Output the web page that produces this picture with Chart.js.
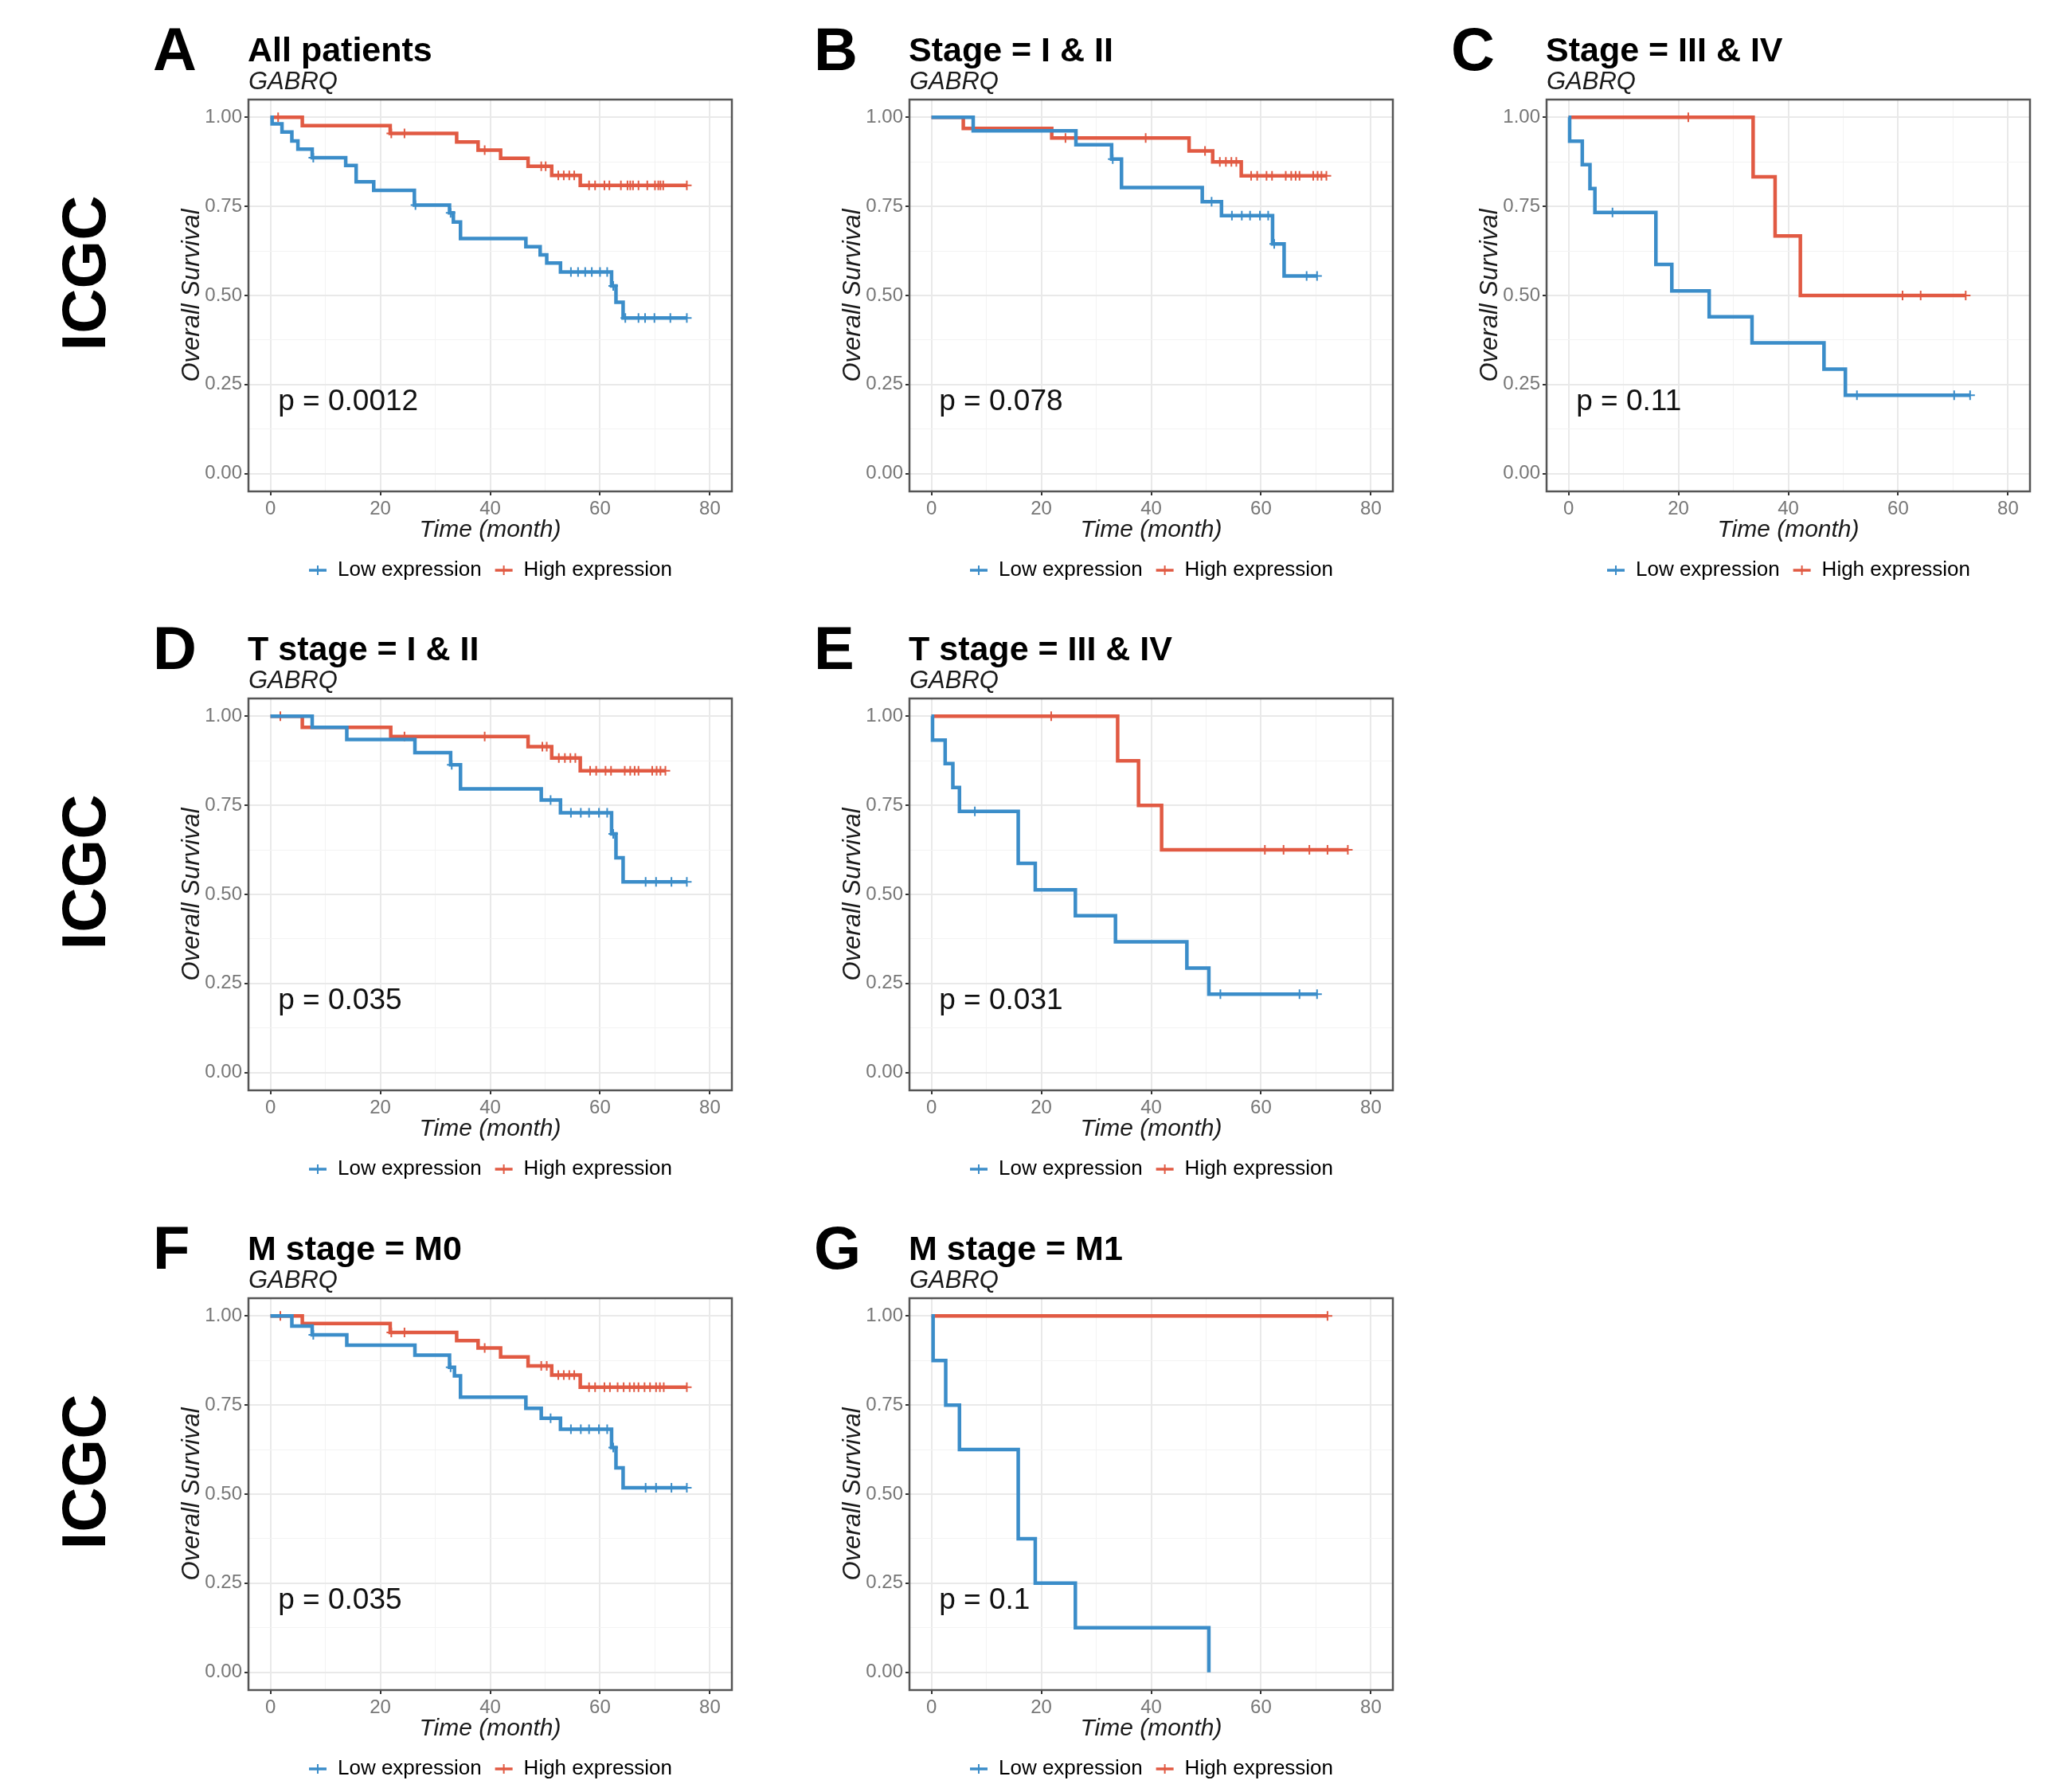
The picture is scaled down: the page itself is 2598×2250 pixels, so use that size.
<!DOCTYPE html>
<html>
<head>
<meta charset="utf-8">
<script src="https://cdn.jsdelivr.net/npm/chart.js@4.4.1/dist/chart.umd.min.js"></script>
<style>
  body { margin: 0; background: #fff; }
  #page { position: relative; width: 2598px; height: 2250px; overflow: hidden; font-family: "Liberation Sans", Arial, sans-serif; }
  #page canvas { position: absolute; }
  .letter { position: absolute; font-weight: bold; font-size: 76px; line-height: 76px; color: #000; }
  .cohort { position: absolute; font-weight: bold; font-size: 78px; line-height: 78px; color: #000;
            transform: translate(-50%, -50%) rotate(-90deg); white-space: nowrap; }
</style>
</head>
<body>
<div id="page"></div>
<script>
// labels
const panelLetters = ["A", "B", "C", "D", "E", "F", "G"];
const panelTitles = ["All patients", "Stage = I & II", "Stage = III & IV", "T stage = I & II",
                     "T stage = III & IV", "M stage = M0", "M stage = M1"];
const pValues = ["p = 0.0012", "p = 0.078", "p = 0.11", "p = 0.035", "p = 0.031", "p = 0.035", "p = 0.1"];
const geneName = "GABRQ";
const cohortName = "ICGC";
const seriesNames = ["Low expression", "High expression"];
const xTicks = [0, 20, 40, 60, 80];
const yTicks = [0, 0.25, 0.5, 0.75, 1];

// A - all patients
const aLowTime  = [0, 0.3, 2.1, 3.9, 5.0, 7.6, 13.7, 15.6, 18.8, 26.2, 32.6, 33.3, 34.6, 46.5, 49.1, 50.3, 52.8, 62.1, 62.9, 64.2, 75.8];
const aLowSurv  = [1, 0.982, 0.959, 0.934, 0.911, 0.887, 0.865, 0.819, 0.795, 0.754, 0.732, 0.706, 0.66, 0.637, 0.614, 0.591, 0.566, 0.527, 0.481, 0.437, 0.437];
const aLowCens  = [7.8, 26.4, 32.8, 54.7, 56.0, 57.3, 58.5, 60.0, 61.3, 62.4, 64.6, 67.0, 68.2, 69.9, 72.8, 75.8];
const aHighTime = [0, 5.8, 21.8, 33.9, 37.8, 41.9, 46.9, 51.2, 56.4, 75.8];
const aHighSurv = [1, 0.977, 0.955, 0.931, 0.908, 0.885, 0.863, 0.837, 0.809, 0.809];
const aHighCens = [1.4, 22.0, 24.4, 39.0, 49.3, 50.1, 52.4, 53.4, 54.4, 55.3, 58.0, 59.1, 60.8, 61.7, 63.8, 65.0, 65.5, 66.0, 67.0, 68.6, 70.0, 70.6, 71.0, 71.5, 75.8];

// B - stage I & II
const bLowTime  = [0, 7.6, 26.3, 32.8, 34.6, 49.3, 52.8, 62.1, 64.2, 70.2];
const bLowSurv  = [1, 0.962, 0.923, 0.883, 0.803, 0.763, 0.724, 0.645, 0.555, 0.555];
const bLowCens  = [33.0, 51.0, 54.7, 56.5, 58.0, 59.8, 61.3, 62.4, 68.3, 70.2];
const bHighTime = [0, 5.8, 21.9, 46.9, 51.2, 56.4, 71.9];
const bHighSurv = [1, 0.969, 0.942, 0.906, 0.875, 0.836, 0.836];
const bHighCens = [24.4, 39.0, 49.8, 52.5, 53.6, 54.6, 55.5, 58.2, 59.3, 61.0, 62.0, 64.5, 65.5, 66.3, 67.0, 69.5, 70.3, 71.0, 71.9];

// C - stage III & IV
const cLowTime  = [0, 0.2, 2.5, 3.9, 4.8, 15.9, 18.8, 25.6, 33.4, 46.5, 50.4, 73.1];
const cLowSurv  = [1, 0.933, 0.867, 0.8, 0.733, 0.587, 0.513, 0.44, 0.367, 0.293, 0.22, 0.22];
const cLowCens  = [8.0, 52.5, 70.2, 73.1];
const cHighTime = [0, 33.6, 37.6, 42.2, 72.3];
const cHighSurv = [1, 0.833, 0.667, 0.5, 0.5];
const cHighCens = [21.8, 60.8, 64.1, 72.3];

// D - T stage I & II
const dLowTime  = [0, 7.6, 13.9, 26.3, 32.8, 34.6, 49.3, 52.8, 62.1, 62.9, 64.2, 75.8];
const dLowSurv  = [1, 0.969, 0.935, 0.898, 0.864, 0.796, 0.765, 0.729, 0.67, 0.603, 0.535, 0.535];
const dLowCens  = [33.0, 51.0, 54.7, 56.5, 58.0, 59.8, 61.3, 62.4, 68.3, 70.2, 73.0, 75.8];
const dHighTime = [0, 5.8, 21.9, 46.9, 51.2, 56.4, 71.9];
const dHighSurv = [1, 0.969, 0.943, 0.915, 0.883, 0.847, 0.847];
const dHighCens = [1.8, 24.4, 39.0, 49.5, 50.3, 52.5, 53.6, 54.6, 55.5, 58.2, 59.3, 61.0, 62.0, 64.5, 65.5, 66.3, 67.0, 69.5, 70.3, 71.0, 71.9];

// E - T stage III & IV
const eLowTime  = [0, 0.2, 2.5, 3.9, 5.1, 15.8, 18.9, 26.2, 33.5, 46.5, 50.5, 70.2];
const eLowSurv  = [1, 0.933, 0.867, 0.8, 0.733, 0.587, 0.513, 0.44, 0.367, 0.293, 0.22, 0.22];
const eLowCens  = [7.9, 52.6, 67.0, 70.2];
const eHighTime = [0, 33.9, 37.7, 41.9, 75.8];
const eHighSurv = [1, 0.875, 0.75, 0.625, 0.625];
const eHighCens = [21.8, 60.7, 64.1, 68.8, 72.1, 75.8];

// F - M stage M0
const fLowTime  = [0, 3.9, 7.6, 13.9, 26.3, 32.6, 33.5, 34.6, 46.5, 49.3, 52.8, 62.1, 62.9, 64.2, 75.8];
const fLowSurv  = [1, 0.972, 0.947, 0.918, 0.89, 0.856, 0.832, 0.772, 0.741, 0.713, 0.682, 0.631, 0.574, 0.518, 0.518];
const fLowCens  = [7.8, 32.8, 51.0, 54.7, 56.5, 58.0, 59.8, 61.3, 62.4, 68.3, 70.2, 73.0, 75.8];
const fHighTime = [0, 5.8, 21.8, 33.9, 37.8, 41.9, 46.9, 51.2, 56.4, 75.8];
const fHighSurv = [1, 0.979, 0.954, 0.931, 0.91, 0.885, 0.86, 0.834, 0.8, 0.8];
const fHighCens = [1.8, 22.0, 24.4, 39.0, 49.3, 50.3, 52.4, 53.4, 54.4, 55.3, 58.0, 59.1, 60.8, 61.8, 63.2, 64.3, 65.4, 66.2, 67.0, 68.1, 69.1, 70.2, 70.9, 71.6, 75.8];

// G - M stage M1
const gLowTime  = [0, 0.3, 2.6, 5.1, 15.8, 18.9, 26.2, 50.5];
const gLowSurv  = [1, 0.875, 0.75, 0.625, 0.375, 0.25, 0.125, 0];
const gLowCens  = [];
const gHighTime = [0, 72.1];
const gHighSurv = [1, 1];
const gHighCens = [72.1];

const lowSets  = [[aLowTime, aLowSurv, aLowCens], [bLowTime, bLowSurv, bLowCens], [cLowTime, cLowSurv, cLowCens],
                  [dLowTime, dLowSurv, dLowCens], [eLowTime, eLowSurv, eLowCens], [fLowTime, fLowSurv, fLowCens],
                  [gLowTime, gLowSurv, gLowCens]];
const highSets = [[aHighTime, aHighSurv, aHighCens], [bHighTime, bHighSurv, bHighCens], [cHighTime, cHighSurv, cHighCens],
                  [dHighTime, dHighSurv, dHighCens], [eHighTime, eHighSurv, eHighCens], [fHighTime, fHighSurv, fHighCens],
                  [gHighTime, gHighSurv, gHighCens]];

// page layout: top-left of each plot panel
const panelPos = [[312, 125], [1142, 125], [1942, 125], [312, 877], [1142, 877], [312, 1630], [1142, 1630]];
const cohortY = [125, 877, 1630];
const PW = 607, PH = 493;
const LEFT = 90, TOP = 125, RIGHT = 15, XAX = 70, LEG = 51, BOT = 10;

const BLUE = "#3b8dc9";
const RED = "#e15a43";
const FONT = '"Liberation Sans", Arial, sans-serif';

Chart.defaults.font.family = FONT;

const page = document.getElementById("page");

function survAt(times, surv, t) {
  let v = surv[0];
  for (let i = 0; i < times.length; i++) if (times[i] <= t) v = surv[i];
  return v;
}

function legendMark(color) {
  const c = document.createElement("canvas");
  c.width = 24; c.height = 14;
  const g = c.getContext("2d");
  g.strokeStyle = color;
  g.lineWidth = 3.5;
  g.beginPath(); g.moveTo(1, 7); g.lineTo(23, 7); g.stroke();
  g.lineWidth = 2;
  g.beginPath(); g.moveTo(12, 1); g.lineTo(12, 13); g.stroke();
  return c;
}
const markLow = legendMark(BLUE);
const markHigh = legendMark(RED);

const isMajor = (v, list) => list.some(m => Math.abs(m - v) < 1e-9);
const withMinor = list => {
  const out = [];
  list.forEach((v, i) => { out.push(v); if (i < list.length - 1) out.push((v + list[i + 1]) / 2); });
  return out;
};

const panelDecor = {
  id: "panelDecor",
  afterDraw(chart, args, opts) {
    const { ctx, chartArea: a, scales } = chart;
    ctx.save();
    ctx.strokeStyle = "#555";
    ctx.lineWidth = 2.5;
    ctx.strokeRect(a.left, a.top, a.right - a.left, a.bottom - a.top);
    ctx.textAlign = "left";
    ctx.textBaseline = "middle";
    ctx.fillStyle = "#000";
    ctx.font = "bold 43px " + FONT;
    ctx.fillText(opts.title, a.left - 1, a.top - 60);
    ctx.fillStyle = "#1a1a1a";
    ctx.font = "italic 31px " + FONT;
    ctx.fillText(opts.gene, a.left, a.top - 22);
    ctx.fillStyle = "#111";
    ctx.font = "37px " + FONT;
    ctx.fillText(opts.pval, scales.x.getPixelForValue(1.4), scales.y.getPixelForValue(0.2));
    ctx.restore();
  }
};

function makePanel(i) {
  const [px, py] = panelPos[i];
  const cv = document.createElement("canvas");
  const w = LEFT + PW + RIGHT, h = TOP + PH + XAX + LEG + BOT;
  cv.width = w; cv.height = h;
  cv.style.left = (px - LEFT) + "px";
  cv.style.top = (py - TOP) + "px";
  cv.style.width = w + "px";
  cv.style.height = h + "px";
  page.appendChild(cv);

  const letter = document.createElement("div");
  letter.className = "letter";
  letter.textContent = panelLetters[i];
  letter.style.left = (px - 120) + "px";
  letter.style.top = (py - 63 - 38) + "px";
  page.appendChild(letter);

  const [lt, ls, lc] = lowSets[i];
  const [ht, hs, hc] = highSets[i];
  const line = (t, s) => t.map((x, k) => ({ x: x, y: s[k] }));
  const cens = (t, s, c) => c.map(x => ({ x: x, y: survAt(t, s, x) }));

  new Chart(cv, {
    type: "line",
    data: {
      datasets: [
        { label: seriesNames[0], data: line(lt, ls), borderColor: BLUE, borderWidth: 4.5, stepped: true, pointRadius: 0, fill: false },
        { label: seriesNames[1], data: line(ht, hs), borderColor: RED, borderWidth: 4.5, stepped: true, pointRadius: 0, fill: false },
        { type: "scatter", label: "low censor", data: cens(lt, ls, lc), borderColor: BLUE, backgroundColor: BLUE,
          pointStyle: "cross", pointRadius: 6, borderWidth: 2 },
        { type: "scatter", label: "high censor", data: cens(ht, hs, hc), borderColor: RED, backgroundColor: RED,
          pointStyle: "cross", pointRadius: 6, borderWidth: 2 }
      ]
    },
    options: {
      responsive: false,
      animation: false,
      devicePixelRatio: 1,
      layout: { padding: { top: TOP, left: 0, right: RIGHT, bottom: BOT } },
      scales: {
        x: {
          type: "linear", min: -4, max: 84,
          afterBuildTicks: ax => { ax.ticks = withMinor(xTicks).map(v => ({ value: v })); },
          afterFit: ax => { ax.height = XAX; },
          ticks: {
            autoSkip: false, maxRotation: 0, padding: 3, color: "#777", font: { size: 24 },
            callback: v => isMajor(v, xTicks) ? String(v) : ""
          },
          grid: {
            color: c => isMajor(c.tick.value, xTicks) ? "#e9e9e9" : "#f3f3f3",
            lineWidth: c => isMajor(c.tick.value, xTicks) ? 2 : 1,
            tickColor: c => isMajor(c.tick.value, xTicks) ? "#333" : "rgba(0,0,0,0)",
            tickLength: 5, tickWidth: 2
          },
          border: { display: false },
          title: { display: true, text: "Time (month)", color: "#1a1a1a",
                   font: { size: 30, style: "italic" }, padding: { top: 0, bottom: 3 } }
        },
        y: {
          type: "linear", min: -0.05, max: 1.05,
          afterBuildTicks: ax => { ax.ticks = withMinor(yTicks).map(v => ({ value: v })); },
          afterFit: ax => { ax.width = LEFT; },
          ticks: {
            autoSkip: false, padding: 3, color: "#777", font: { size: 24 },
            callback: v => isMajor(v, yTicks) ? v.toFixed(2) : ""
          },
          grid: {
            color: c => isMajor(c.tick.value, yTicks) ? "#e9e9e9" : "#f3f3f3",
            lineWidth: c => isMajor(c.tick.value, yTicks) ? 2 : 1,
            tickColor: c => isMajor(c.tick.value, yTicks) ? "#333" : "rgba(0,0,0,0)",
            tickLength: 5, tickWidth: 2
          },
          border: { display: false },
          title: { display: true, text: "Overall Survival", color: "#1a1a1a",
                   font: { size: 31, style: "italic" }, padding: { top: 1, bottom: 0 } }
        }
      },
      plugins: {
        title: { display: false },
        tooltip: { enabled: false },
        legend: {
          position: "bottom", fullSize: false,
          labels: {
            usePointStyle: true, pointStyleWidth: 24, padding: 16, color: "#1a1a1a",
            font: { size: 26 },
            generateLabels: () => [
              { text: seriesNames[0], pointStyle: markLow, fillStyle: BLUE, strokeStyle: BLUE, lineWidth: 0, datasetIndex: 0, hidden: false },
              { text: seriesNames[1], pointStyle: markHigh, fillStyle: RED, strokeStyle: RED, lineWidth: 0, datasetIndex: 1, hidden: false }
            ]
          }
        },
        panelDecor: { title: panelTitles[i], gene: geneName, pval: pValues[i] }
      }
    },
    plugins: [panelDecor]
  });
}

for (let i = 0; i < panelTitles.length; i++) makePanel(i);

cohortY.forEach(y => {
  const d = document.createElement("div");
  d.className = "cohort";
  d.textContent = cohortName;
  d.style.left = "105px";
  d.style.top = (y + 218) + "px";
  page.appendChild(d);
});
</script>
</body>
</html>
